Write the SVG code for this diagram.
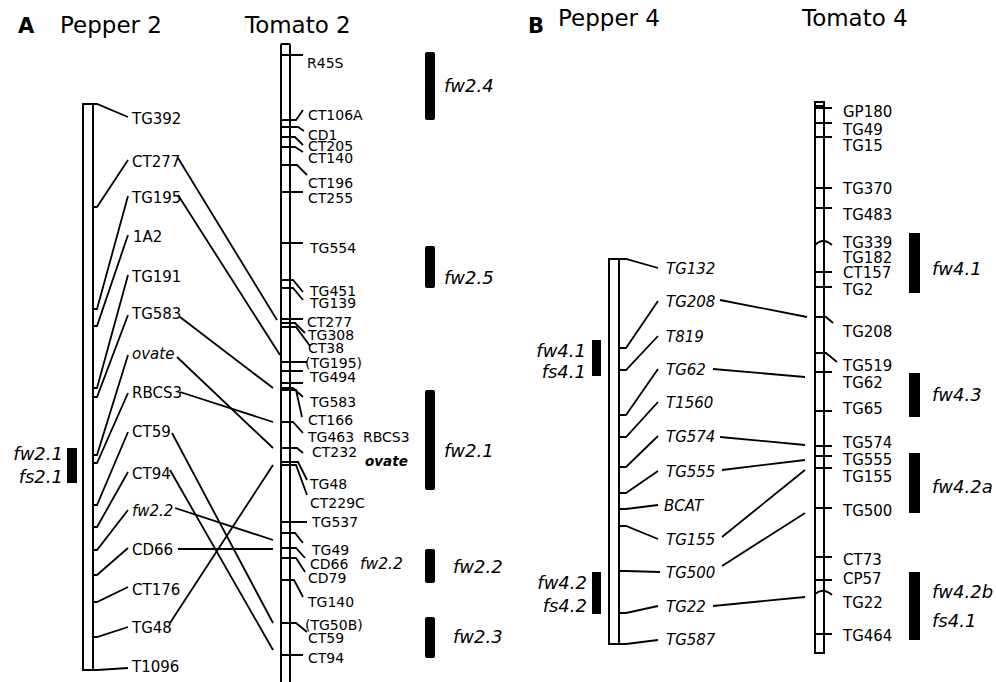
<svg xmlns="http://www.w3.org/2000/svg" width="996" height="682" viewBox="0 0 996 682">
<style>
text{font-family:"DejaVu Sans","Liberation Sans",sans-serif;fill:#000}
.lbl{font-size:15px}
.tl{font-size:14px}
.it{font-style:italic}
.qtl{font-size:18px;font-style:italic}
.hdr{font-size:23px}
.big{font-size:21px;font-weight:bold}
.chr{fill:#fff;stroke:#000;stroke-width:2}
.tk{fill:none;stroke:#000;stroke-width:1.8}
.cn{fill:none;stroke:#000;stroke-width:1.8}
.bar{fill:#000}
</style>
<rect width="996" height="682" fill="#fff"/>

<!-- headers -->
<g id="headers">
<text class="big" x="18" y="33">A</text>
<text class="hdr" x="60" y="33">Pepper 2</text>
<text class="hdr" x="245" y="33">Tomato 2</text>
<text class="big" x="528" y="33">B</text>
<text class="hdr" x="558" y="26">Pepper 4</text>
<text class="hdr" x="802" y="26">Tomato 4</text>
</g>

<!-- Pepper 2 -->
<g id="pepper2">
<rect class="chr" x="83" y="104" width="10" height="566"/>
<path class="tk" d="M83,104 H97 L128,117 M93,207 H97 L128,160 M93,309 H97 L128,196 M93,326 H97 L128,235 M93,388 H97 L128,275 M93,397 H97 L128,315 M93,455 H97 L128,355 M93,463 H97 L128,393 M93,505 H97 L128,432 M93,527 H97 L128,472 M93,550 H97 L128,510 M93,575 H97 L128,548 M93,602 H97 L128,587 M93,637 H97 L128,627 M93,670 H97 L128,668"/>
<g class="lbl">
<text x="132" y="124">TG392</text>
<text x="132" y="167">CT277</text>
<text x="132" y="203">TG195</text>
<text x="133" y="242">1A2</text>
<text x="132" y="282">TG191</text>
<text x="132" y="319">TG583</text>
<text class="it" x="132" y="359">ovate</text>
<text x="132" y="398">RBCS3</text>
<text x="132" y="437">CT59</text>
<text x="132" y="479">CT94</text>
<text class="it" x="132" y="516">fw2.2</text>
<text x="132" y="555">CD66</text>
<text x="132" y="595">CT176</text>
<text x="132" y="633">TG48</text>
<text x="132" y="672">T1096</text>
</g>
<rect class="bar" x="67" y="448" width="10" height="35"/>
<text class="qtl" x="63" y="460" text-anchor="end">fw2.1</text>
<text class="qtl" x="63" y="483" text-anchor="end">fs2.1</text>
</g>

<!-- Tomato 2 -->
<g id="tomato2">
<rect class="chr" x="281" y="44" width="9" height="650" rx="1"/>
<path class="tk" d="M281,55 H303 M281,120 H296 L303,110 M281,127 H298 L304,131 M281,137 H295 L303,145 M281,147 H295 L303,152 M281,165 H297 L307,175 M281,192 H303 M281,243 H303 M281,280 H293 L303,292 M281,288 H293 L303,300 M281,319 H303 M281,323 H295 L305,333 M281,327 H296 L310,346 M281,362 H307 M281,371 H303 M281,383 H303 M281,388 H293 L303,397 M281,390 H296 L302,417 M281,422 H293 L303,433 M281,448 H297 L303,453 M281,462 H298 L307,480 M281,465 H296 L307,495 M281,522 H307 M281,533 H295 L303,543 M281,548 H296 L305,558 M281,558 H296 L305,572 M281,580 H294 L303,597 M281,623 H296 L307,632 M281,655 H303"/>
<g class="tl">
<text x="307" y="68">R45S</text>
<text x="308" y="120">CT106A</text>
<text x="308" y="140">CD1</text>
<text x="308" y="151">CT205</text>
<text x="308" y="163">CT140</text>
<text x="308" y="188">CT196</text>
<text x="308" y="203">CT255</text>
<text x="310" y="253">TG554</text>
<text x="310" y="296">TG451</text>
<text x="310" y="308">TG139</text>
<text x="307" y="327">CT277</text>
<text x="308" y="340">TG308</text>
<text x="308" y="353">CT38</text>
<text x="305" y="368">(TG195)</text>
<text x="310" y="382">TG494</text>
<text x="310" y="407">TG583</text>
<text x="308" y="425">CT166</text>
<text x="308" y="442">TG463</text>
<text x="363" y="442">RBCS3</text>
<text x="312" y="457">CT232</text>
<text x="365" y="466" font-style="italic" font-weight="bold" font-size="13.5">ovate</text>
<text x="310" y="489">TG48</text>
<text x="310" y="508">CT229C</text>
<text x="312" y="527">TG537</text>
<text x="312" y="555">TG49</text>
<text x="310" y="569">CD66</text>
<text x="360" y="569" font-style="italic" font-size="15.5">fw2.2</text>
<text x="308" y="583">CD79</text>
<text x="308" y="607">TG140</text>
<text x="305" y="630">(TG50B)</text>
<text x="308" y="643">CT59</text>
<text x="308" y="663">CT94</text>
</g>
<rect class="bar" x="425" y="52" width="10" height="68" rx="2"/>
<rect class="bar" x="425" y="246" width="10" height="42" rx="2"/>
<rect class="bar" x="425" y="390" width="10" height="100" rx="2"/>
<rect class="bar" x="425" y="549" width="10" height="34" rx="2"/>
<rect class="bar" x="425" y="617" width="10" height="41" rx="2"/>
<text class="qtl" x="444" y="92">fw2.4</text>
<text class="qtl" x="444" y="284">fw2.5</text>
<text class="qtl" x="444" y="457">fw2.1</text>
<text class="qtl" x="453" y="573">fw2.2</text>
<text class="qtl" x="453" y="643">fw2.3</text>
</g>

<!-- Pepper 4 -->
<g id="pepper4">
<rect class="chr" x="609" y="259" width="10" height="385"/>
<path class="tk" d="M609,259 H626 L658,268 M619,348 H626 L658,301 M619,370 H626 L658,336 M619,415 H626 L658,369 M619,437 H626 L658,402 M619,467 H626 L658,436 M619,493 H626 L658,471 M619,509 H626 L658,505 M619,526 H626 L658,539 M619,571 H626 L660,572 M619,613 H626 L658,606 M609,644 H626 L658,640"/>
<g class="lbl it">
<text x="666" y="274">TG132</text>
<text x="666" y="307">TG208</text>
<text x="666" y="342">T819</text>
<text x="666" y="375">TG62</text>
<text x="666" y="408">T1560</text>
<text x="666" y="442">TG574</text>
<text x="666" y="477">TG555</text>
<text x="664" y="511">BCAT</text>
<text x="666" y="545">TG155</text>
<text x="666" y="578">TG500</text>
<text x="666" y="612">TG22</text>
<text x="666" y="645">TG587</text>
</g>
<rect class="bar" x="592" y="340" width="9" height="36"/>
<rect class="bar" x="592" y="572" width="9" height="42"/>
<text class="qtl" x="586" y="357" text-anchor="end">fw4.1</text>
<text class="qtl" x="586" y="378" text-anchor="end">fs4.1</text>
<text class="qtl" x="587" y="589" text-anchor="end">fw4.2</text>
<text class="qtl" x="587" y="612" text-anchor="end">fs4.2</text>
</g>

<!-- Tomato 4 -->
<g id="tomato4">
<rect class="chr" x="815" y="102" width="9" height="551"/>
<path class="tk" d="M815,106 H824 M815,108 H832 M815,123 H832 M815,137 H832 M815,188 H832 M815,208 H832 M815,245 Q823,237 832,245 M815,272 H832 M815,287 H832 M815,317 H826 L833,323 M815,353 H826 L837,362 M815,372 H832 M815,411 H832 M815,446 H832 M815,456 H832 M815,468 H832 M815,508 H832 M815,557 H832 M815,580 H832 M815,594 Q823,587 832,595 M815,634 H832"/>
<g class="lbl">
<text x="843" y="117">GP180</text>
<text x="843" y="135">TG49</text>
<text x="843" y="151">TG15</text>
<text x="843" y="194">TG370</text>
<text x="843" y="220">TG483</text>
<text x="843" y="248">TG339</text>
<text x="843" y="263">TG182</text>
<text x="843" y="278">CT157</text>
<text x="843" y="295">TG2</text>
<text x="843" y="337">TG208</text>
<text x="843" y="371">TG519</text>
<text x="843" y="388">TG62</text>
<text x="843" y="414">TG65</text>
<text x="843" y="448">TG574</text>
<text x="843" y="465">TG555</text>
<text x="843" y="482">TG155</text>
<text x="843" y="516">TG500</text>
<text x="843" y="565">CT73</text>
<text x="843" y="584">CP57</text>
<text x="843" y="608">TG22</text>
<text x="843" y="641">TG464</text>
</g>
<rect class="bar" x="909" y="233" width="11" height="60"/>
<rect class="bar" x="909" y="373" width="11" height="44"/>
<rect class="bar" x="909" y="453" width="11" height="60"/>
<rect class="bar" x="909" y="572" width="11" height="68"/>
<text class="qtl" x="932" y="275">fw4.1</text>
<text class="qtl" x="932" y="401">fw4.3</text>
<text class="qtl" x="932" y="493">fw4.2a</text>
<text class="qtl" x="932" y="598">fw4.2b</text>
<text class="qtl" x="932" y="627">fs4.1</text>
</g>

<!-- connectors -->
<g id="connectors" class="cn">
<line x1="178" y1="158" x2="277" y2="320"/>
<line x1="178" y1="195" x2="280" y2="355"/>
<line x1="180" y1="317" x2="273" y2="388"/>
<line x1="177" y1="357" x2="273" y2="448"/>
<line x1="180" y1="392" x2="273" y2="422"/>
<line x1="172" y1="433" x2="273" y2="623"/>
<line x1="170" y1="470" x2="273" y2="650"/>
<line x1="175" y1="508" x2="273" y2="540"/>
<line x1="178" y1="549" x2="273" y2="549"/>
<line x1="170" y1="623" x2="273" y2="465"/>
<line x1="720" y1="300" x2="807" y2="317"/>
<line x1="713" y1="369" x2="805" y2="377"/>
<line x1="720" y1="437" x2="805" y2="445"/>
<line x1="722" y1="470" x2="805" y2="460"/>
<line x1="722" y1="537" x2="805" y2="470"/>
<line x1="722" y1="566" x2="805" y2="513"/>
<line x1="713" y1="606" x2="805" y2="597"/>
</g>
</svg>
